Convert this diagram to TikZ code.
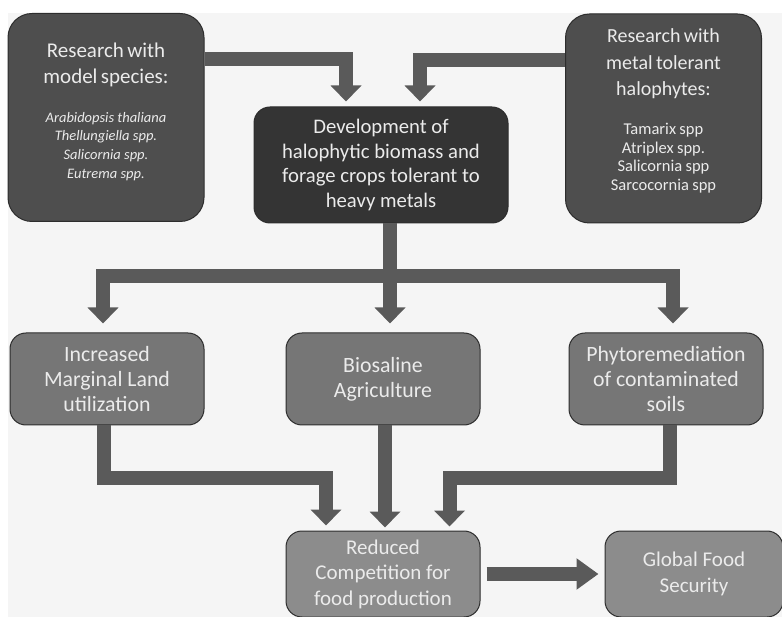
\documentclass[tikz,border=0pt]{standalone}
\usepackage{fontspec}
\setmainfont{Carlito}
\usepackage{xcolor}
\definecolor{pagegray}{RGB}{245,245,245}
\definecolor{sidegray}{RGB}{78,78,78}
\definecolor{devgray}{RGB}{52,52,52}
\definecolor{midgray}{RGB}{118,118,118}
\definecolor{lowgray}{RGB}{140,140,140}
\definecolor{arrowgray}{RGB}{90,90,90}
\definecolor{edgegray}{RGB}{45,45,45}
\definecolor{textgray}{RGB}{235,235,235}
\usetikzlibrary{arrows.meta,positioning,calc}
\tikzset{
    bigarrow/.style={
        draw=arrowgray, line width=14pt, line join=miter,
        -{Triangle[width=30pt,length=16pt]}
    }
}
\newcommand{\headfont}{\fontsize{21}{25.5}\selectfont}
\newcommand{\listfont}{\fontsize{16.5}{18.7}\selectfont}

\begin{document}
\begin{tikzpicture}[
    x=1pt, y=-1pt,
  roundbox/.style={
    draw=edgegray,
    line width=1pt,
    rounded corners=#1,
    text=textgray,
    align=center,
    inner sep=2pt,
    font=\headfont
    },
  sidebox/.style={roundbox=24pt, fill=sidegray, minimum width=196pt, minimum height=208pt},
  devbox/.style={roundbox=16pt, fill=devgray, minimum width=254pt, minimum height=116pt},
  midbox/.style={roundbox=16pt, fill=midgray, minimum width=194pt, minimum height=92pt,
    font=\fontsize{21.8}{25}\selectfont},
  lowbox/.style={roundbox=16pt, fill=lowgray, minimum width=194pt, minimum height=86pt},
  sidetext/.style={text=textgray, text width=190pt, align=center, inner sep=0pt}
      ]

\useasboundingbox (0,0) rectangle (782,617);
\fill[pagegray] (8,13) rectangle (782,617);

% top row
\node[sidebox] (model) at (106,117.5) {};
\node[sidetext] (modeltext) at ($(model.center)+(0,-5.5)$)
  {{\headfont Research with\\ model species:\par}\vspace{20pt}
   {\fontsize{14.5}{18.7}\selectfont\itshape Arabidopsis thaliana\\ Thellungiella spp.\\ Salicornia spp.\\ Eutrema spp.\par}};

\node[sidebox, minimum height=209pt] (metal) at (663.5,118.5) {};
\node[sidetext] (metaltext) at ($(metal.center)+(0,-7.5)$)
  {{\fontsize{20}{26.5}\selectfont Research with\\ metal tolerant\\ halophytes:\par}\vspace{20pt}
   {\listfont Tamarix spp\\ Atriplex spp.\\ Salicornia spp\\ Sarcocornia spp\par}};

\node[devbox, font=\fontsize{20.7}{24.7}\selectfont] (dev) at (381,165)
  {Development of\\ halophytic biomass and\\ forage crops tolerant to\\ heavy metals};

% middle row
\node[midbox] (marginal) at (107,379) {Increased\\ Marginal Land\\ utilization};
\node[midbox] (saline) [right=81pt of marginal] {Biosaline\\ Agriculture};
\node[midbox] (phyto) [right=88pt of saline] {Phytoremediation\\ of contaminated\\ soils};

% bottom row
\node[lowbox] (reduced) [below=105pt of saline] {Reduced\\ Competition for\\ food production};
\node[lowbox, minimum width=178pt] (globalfood) [right=124pt of reduced] {Global Food\\ Security};

% arrows
\draw[bigarrow] ([yshift=-46.5pt]model.north east) -| ($(dev.north)+(-35,-5)$);
\draw[bigarrow] ([yshift=-46.5pt]metal.north west) -| ($(dev.north)+(39,-5)$);

\coordinate (split) at ($(dev.south)+(9,52.5)$);
\draw[bigarrow] ($(dev.south)+(9,0)$) -- (split) -| ($(marginal.north)+(-4,-9)$);
\draw[bigarrow] (split) -- ($(split |- saline.north)+(0,-9)$);
\draw[bigarrow] (split) -| ($(phyto.north)+(7,-9)$);

\draw[bigarrow] ($(marginal.south)+(-3.5,0)$) -- ++(0,52) -| ($(reduced.north)+(-57,-5)$);
\draw[bigarrow] ($(saline.south)+(2,0)$) -- ($(reduced.north)+(2,-3)$);
\draw[bigarrow] ($(phyto.south)+(4,0)$) -- ++(0,52.5) -| ($(reduced.north)+(66.5,-4)$);

\draw[bigarrow, -{Triangle[width=30pt,length=22pt]}]
  ($(reduced.east)+(6,0)$) -- ($(globalfood.west)+(-6,0)$);

\end{tikzpicture}
\end{document}
